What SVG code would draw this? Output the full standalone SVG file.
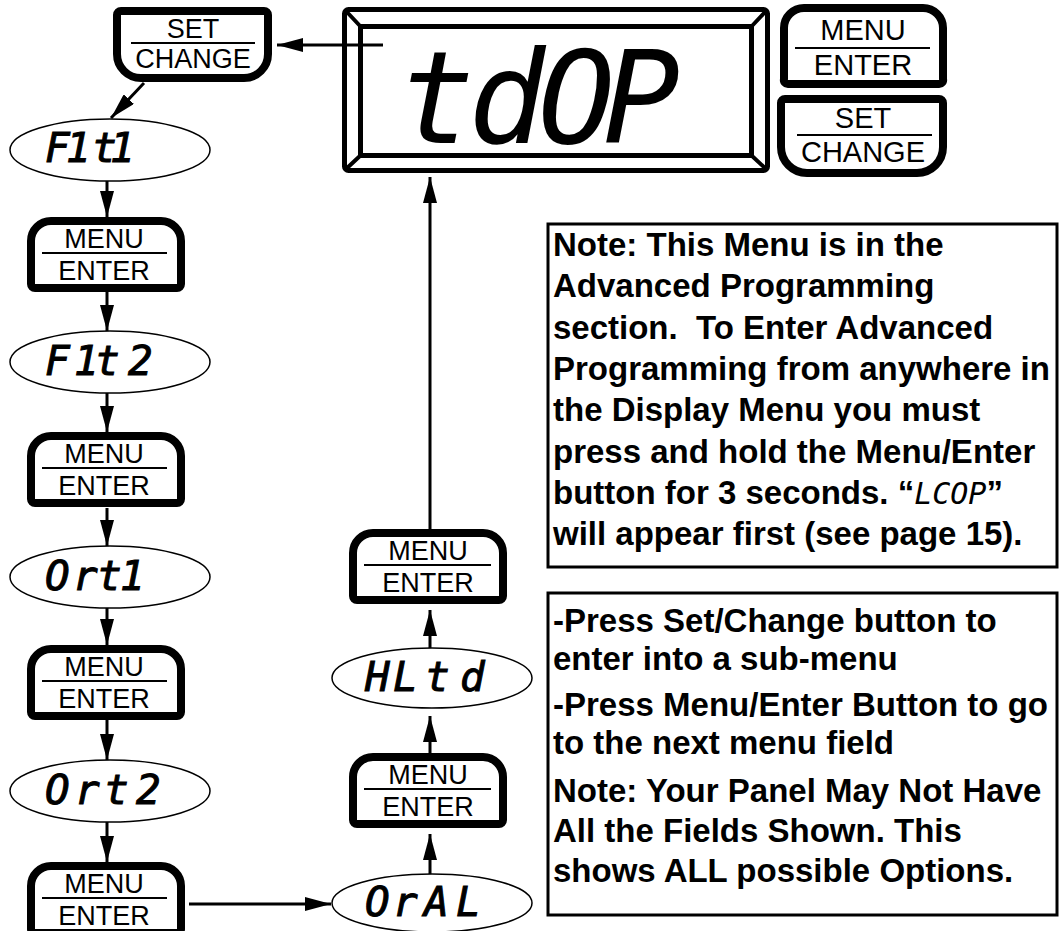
<svg xmlns="http://www.w3.org/2000/svg" width="1059" height="931" viewBox="0 0 1059 931">
<style>
.btn{fill:#fff;stroke:#000;stroke-width:8;stroke-linejoin:round}
.bt{font-family:"Liberation Sans",Arial,sans-serif;font-size:27px;text-anchor:middle;fill:#000}
.bt2{font-family:"Liberation Sans",Arial,sans-serif;font-size:29px;text-anchor:middle;fill:#000}
.sep{stroke:#000;stroke-width:2}
.ell{fill:#fff;stroke:#000;stroke-width:1.5}
.seg{font-family:"DejaVu Sans Mono",monospace;font-style:oblique;font-weight:normal;font-size:41px;fill:#000;stroke:#000;stroke-width:1}
.big{font-family:"DejaVu Sans Mono",monospace;font-style:oblique;font-size:128px;fill:#000}
.frame{fill:#fff;stroke:#000;stroke-width:5}
.note{font-family:"Liberation Sans",Arial,sans-serif;font-weight:bold;font-size:33px;fill:#000}
.lcop{font-family:"DejaVu Sans Mono",monospace;font-style:oblique;font-weight:normal;font-size:30px}
.box{fill:#fff;stroke:#000;stroke-width:3}
.conn{fill:none;stroke:#000;stroke-width:3}
</style>
<defs>
<marker id="ah" viewBox="0 0 26 14" refX="26" refY="7" markerWidth="26" markerHeight="14" markerUnits="userSpaceOnUse" orient="auto">
<path d="M0,0 L26,7 L0,14 Z" fill="#000"/>
</marker>
<path id="menuShape" d="M4,67 V24 A20,20 0 0 1 24,4 H134 A20,20 0 0 1 154,24 V67 A4,4 0 0 1 150,71 H8 A4,4 0 0 1 4,67 Z"/>
</defs>

<!-- display -->
<g id="display">
<rect class="frame" x="344.5" y="9.5" width="423" height="161" rx="4"/>
<rect class="frame" x="360.5" y="26.5" width="391" height="129"/>
<path d="M346,11 L361,27 M766,11 L751,27 M346,169 L361,155 M766,169 L751,155" stroke="#000" stroke-width="4"/>
<text class="big" x="398 468 538 603" y="143">tdOP</text>
</g>

<g id="btn-menu-panel">
<path class="btn" d="M784,79 V28 A20,20 0 0 1 804,8 H923 A20,20 0 0 1 943,28 V79 A4,4 0 0 1 939,84 H788 A4,4 0 0 1 784,79 Z"/>
<text class="bt2" x="863" y="40">MENU</text>
<line class="sep" x1="795" y1="48" x2="930" y2="48"/>
<text class="bt2" x="863" y="75">ENTER</text>
</g>
<g id="btn-set-panel">
<path class="btn" d="M781,103 A4,4 0 0 1 785,99 H939 A4,4 0 0 1 943,103 V147 A26,26 0 0 1 917,173 H807 A26,26 0 0 1 781,147 Z"/>
<text class="bt2" x="863" y="128">SET</text>
<line class="sep" x1="797" y1="135" x2="932" y2="135"/>
<text class="bt2" x="863" y="162">CHANGE</text>
</g>

<!-- left column -->
<g id="btn-set">
<path class="btn" d="M117,15 A4,4 0 0 1 121,11 H264 A4,4 0 0 1 268,15 V54 A24,24 0 0 1 244,78 H141 A24,24 0 0 1 117,54 Z"/>
<text class="bt" x="193" y="38">SET</text>
<line class="sep" x1="131" y1="43" x2="255" y2="43"/>
<text class="bt" x="193" y="68">CHANGE</text>
</g>

<g id="e-f1t1"><ellipse class="ell" cx="110" cy="150" rx="100" ry="31"/><text class="seg" x="45 66 82 92 110" y="162">F1 t1</text></g>

<g id="btn-menu-1" transform="translate(27,217)">
<use href="#menuShape" class="btn"/>
<text class="bt" x="77" y="31">MENU</text>
<line class="sep" x1="15" y1="36" x2="140" y2="36"/>
<text class="bt" x="77" y="63">ENTER</text>
</g>

<g id="e-f1t2"><ellipse class="ell" cx="110" cy="362" rx="100" ry="31"/><text class="seg" x="45 68 74 95 128" y="375">F 1t2</text></g>

<g id="btn-menu-2" transform="translate(27,432)">
<use href="#menuShape" class="btn"/>
<text class="bt" x="77" y="31">MENU</text>
<line class="sep" x1="15" y1="36" x2="140" y2="36"/>
<text class="bt" x="77" y="63">ENTER</text>
</g>

<g id="e-ort1"><ellipse class="ell" cx="110" cy="577" rx="100" ry="31"/><text class="seg" x="45 73 97 115 120" y="590">Ort 1</text></g>

<g id="btn-menu-3" transform="translate(27,645)">
<use href="#menuShape" class="btn"/>
<text class="bt" x="77" y="31">MENU</text>
<line class="sep" x1="15" y1="36" x2="140" y2="36"/>
<text class="bt" x="77" y="63">ENTER</text>
</g>

<g id="e-ort2"><ellipse class="ell" cx="110" cy="791" rx="100" ry="31"/><text class="seg" x="45 75 104 136" y="804">Ort2</text></g>

<g id="btn-menu-4" transform="translate(27,862)">
<use href="#menuShape" class="btn"/>
<text class="bt" x="77" y="31">MENU</text>
<line class="sep" x1="15" y1="36" x2="140" y2="36"/>
<text class="bt" x="77" y="63">ENTER</text>
</g>

<!-- right column -->
<g id="e-oral"><ellipse class="ell" cx="432" cy="903" rx="100" ry="29"/><text class="seg" x="365 393 424 456" y="916">OrAL</text></g>

<g id="btn-menu-5" transform="translate(349,753)">
<use href="#menuShape" class="btn"/>
<text class="bt" x="79" y="31">MENU</text>
<line class="sep" x1="15" y1="36" x2="142" y2="36"/>
<text class="bt" x="79" y="63">ENTER</text>
</g>

<g id="e-hltd"><ellipse class="ell" cx="432" cy="678" rx="100" ry="30"/><text class="seg" x="365 393 425 460" y="691">HLtd</text></g>

<g id="btn-menu-6" transform="translate(349,529)">
<use href="#menuShape" class="btn"/>
<text class="bt" x="79" y="31">MENU</text>
<line class="sep" x1="15" y1="36" x2="142" y2="36"/>
<text class="bt" x="79" y="63">ENTER</text>
</g>

<!-- notes -->
<g id="note-1">
<rect class="box" x="548" y="224" width="509" height="343"/>
<text class="note" x="553" y="256">Note: This Menu is in the</text>
<text class="note" x="553" y="297">Advanced Programming</text>
<text class="note" x="553" y="339" xml:space="preserve">section.  To Enter Advanced</text>
<text class="note" x="553" y="380">Programming from anywhere in</text>
<text class="note" x="553" y="421">the Display Menu you must</text>
<text class="note" x="553" y="463">press and hold the Menu/Enter</text>
<text class="note" x="553" y="504" xml:space="preserve">button for 3 seconds. “<tspan class="lcop">LCOP</tspan>”</text>
<text class="note" x="553" y="545">will appear first (see page 15).</text>
</g>
<g id="note-2">
<rect class="box" x="548" y="593" width="509" height="322"/>
<text class="note" x="553" y="632">-Press Set/Change button to</text>
<text class="note" x="553" y="670">enter into a sub-menu</text>
<text class="note" x="553" y="716">-Press Menu/Enter Button to go</text>
<text class="note" x="553" y="754">to the next menu field</text>
<text class="note" x="553" y="802">Note: Your Panel May Not Have</text>
<text class="note" x="553" y="842">All the Fields Shown. This</text>
<text class="note" x="553" y="882">shows ALL possible Options.</text>
</g>

<g id="connectors" class="conn">
<path class="conn" d="M383,45 H277" marker-end="url(#ah)"/>
<path class="conn" d="M144,83 L111,118" marker-end="url(#ah)"/>
<path class="conn" d="M107,181 V217" marker-end="url(#ah)"/>
<path class="conn" d="M107,292 V331" marker-end="url(#ah)"/>
<path class="conn" d="M107,393 V432" marker-end="url(#ah)"/>
<path class="conn" d="M107,508 V546" marker-end="url(#ah)"/>
<path class="conn" d="M107,608 V645" marker-end="url(#ah)"/>
<path class="conn" d="M107,720 V760" marker-end="url(#ah)"/>
<path class="conn" d="M107,822 V862" marker-end="url(#ah)"/>
<path class="conn" d="M189,904 H331" marker-end="url(#ah)"/>
<path class="conn" d="M430,874 V834" marker-end="url(#ah)"/>
<path class="conn" d="M430,753 V716" marker-end="url(#ah)"/>
<path class="conn" d="M430,648 V610" marker-end="url(#ah)"/>
<path class="conn" d="M430,529 V177" marker-end="url(#ah)"/>
</g>
</svg>
